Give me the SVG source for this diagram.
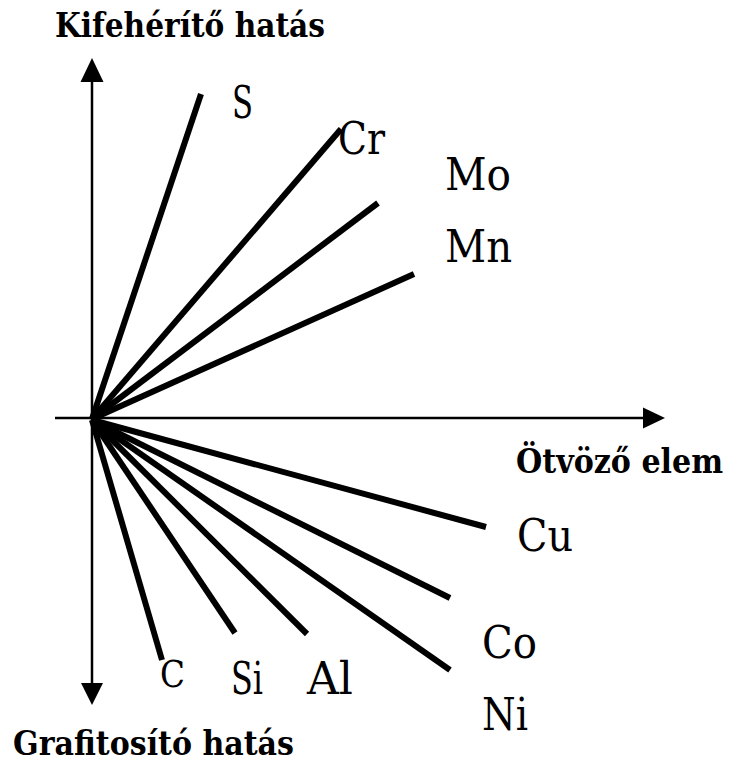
<svg xmlns="http://www.w3.org/2000/svg" width="731" height="763" viewBox="0 0 731 763">
<style>
.axis{stroke:#000;stroke-width:2.5;fill:none}
.ray{stroke:#000;stroke-width:6;stroke-linecap:butt;fill:none}
.head{fill:#000}
</style>
<rect width="731" height="763" fill="#fff"/>
<g id="axes">
<line class="axis" x1="92" y1="80" x2="92" y2="685"/>
<line class="axis" x1="55" y1="418" x2="645" y2="418"/>
<polygon class="head" points="92,58 80.5,82 103.5,82"/>
<polygon class="head" points="92,705 81,683 103,683"/>
<polygon class="head" points="665,418 643,407.5 643,428.5"/>
</g>
<g id="connectors">
<line class="ray" x1="92" y1="419" x2="201" y2="94"/>
<line class="ray" x1="92" y1="419" x2="341" y2="129"/>
<line class="ray" x1="92" y1="419" x2="378" y2="203"/>
<line class="ray" x1="92" y1="419" x2="414" y2="274"/>
<line class="ray" x1="92" y1="420" x2="486" y2="527"/>
<line class="ray" x1="92" y1="420" x2="450" y2="598"/>
<line class="ray" x1="92" y1="420" x2="450" y2="670"/>
<line class="ray" x1="92" y1="420" x2="162" y2="660"/>
<line class="ray" x1="92" y1="420" x2="235" y2="633"/>
<line class="ray" x1="92" y1="420" x2="307" y2="634"/>
</g>
<g font-family="DejaVu Serif, serif" fill="#000">
<g font-weight="bold" font-size="34">
<g id="title-top"><text x="55" y="37" textLength="270" lengthAdjust="spacingAndGlyphs">Kifehérítő hatás</text></g>
<g id="title-right"><text x="516" y="473" textLength="207" lengthAdjust="spacingAndGlyphs">Ötvöző elem</text></g>
<g id="title-bottom"><text x="13" y="755" textLength="281" lengthAdjust="spacingAndGlyphs">Grafitosító hatás</text></g>
</g>
<g font-size="44">
<g id="S"><text x="232" y="118" textLength="21" lengthAdjust="spacingAndGlyphs">S</text></g>
<g id="Cr"><text x="338" y="154" textLength="47" lengthAdjust="spacingAndGlyphs">Cr</text></g>
<g id="Mo"><text x="445" y="190" textLength="66" lengthAdjust="spacingAndGlyphs">Mo</text></g>
<g id="Mn"><text x="445" y="262" textLength="67" lengthAdjust="spacingAndGlyphs">Mn</text></g>
<g id="Cu"><text x="517" y="551" textLength="56" lengthAdjust="spacingAndGlyphs">Cu</text></g>
<g id="Co"><text x="482" y="658" textLength="55" lengthAdjust="spacingAndGlyphs">Co</text></g>
<g id="Ni"><text x="482" y="730" textLength="46" lengthAdjust="spacingAndGlyphs">Ni</text></g>
<g id="C"><text x="160" y="687" font-size="38" textLength="25" lengthAdjust="spacingAndGlyphs">C</text></g>
<g id="Si"><text x="231" y="694" textLength="32" lengthAdjust="spacingAndGlyphs">Si</text></g>
<g id="Al"><text x="307" y="694" textLength="46" lengthAdjust="spacingAndGlyphs">Al</text></g>
</g>
</g>
</svg>
